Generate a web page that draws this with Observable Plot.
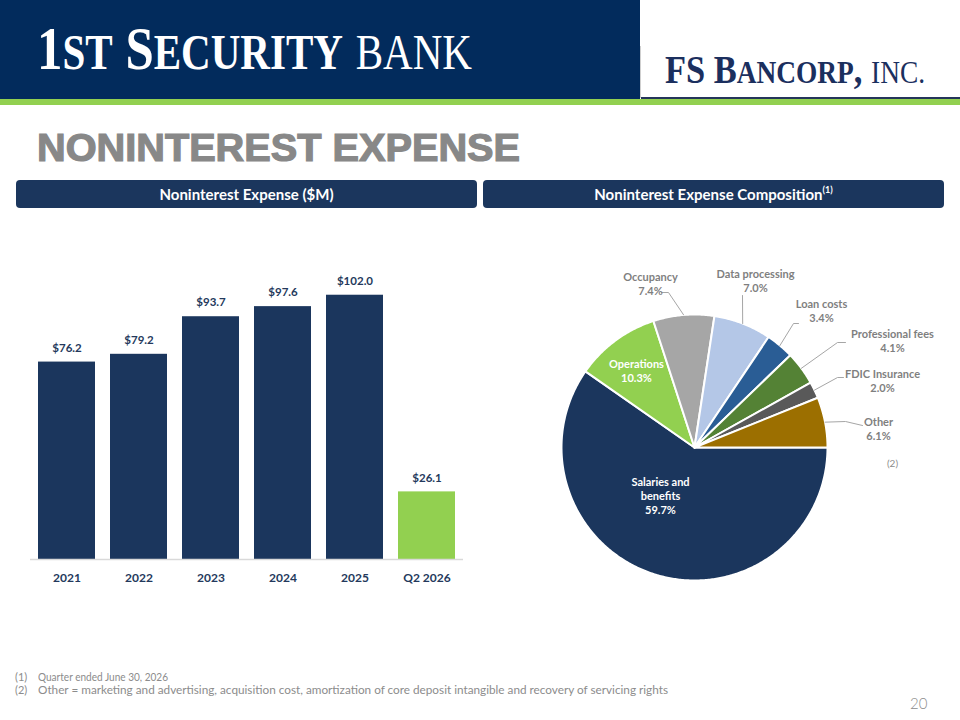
<!DOCTYPE html>
<html><head><meta charset="utf-8">
<script src="https://cdn.jsdelivr.net/npm/d3@7"></script>
<script src="https://cdn.jsdelivr.net/npm/@observablehq/plot@0.6"></script>
<style>
body{margin:0;width:960px;height:720px;position:relative;overflow:hidden;background:#fff;font-family:Lato,"Open Sans",sans-serif;}
.abs{position:absolute}
.fit{display:inline-block;white-space:nowrap;transform-origin:0 0}
.sect{position:absolute;top:180px;height:28px;background:#1b365d;border-radius:4px;color:#fff;font-weight:700;font-size:15px;line-height:28px;text-align:center}
.sect sup{font-size:9px;line-height:0;position:relative;top:-1px}
.foot{position:absolute;left:15px;font-size:11px;color:#8c8c8c;white-space:nowrap}
</style></head><body>
<!-- header -->
<div class="abs" style="left:0;top:0;width:640px;height:100px;background:#022b5c"></div>
<div class="abs" style="left:640px;top:46px;width:1px;height:52px;background:#cfcfcf"></div>
<div class="abs" style="left:641px;top:97px;width:319px;height:2px;background:#24345a"></div>
<div class="abs" style="left:0;top:99px;width:960px;height:6px;background:#92d050"></div>
<div class="abs" style="left:37px;top:15px;color:#fff;font-family:'Liberation Serif',serif;"><span id="logo1" class="fit" style="font-size:62px;line-height:66px"><b>1<span style="font-size:50px">ST</span> S<span style="font-size:50px">ECURITY</span></b> <span style="font-size:50px">BANK</span></span></div>
<div class="abs" style="left:665px;top:48px;color:#1b2f5e;font-family:'Liberation Serif',serif;"><span id="logo2" class="fit" style="font-size:39px;line-height:43px"><b>FS B<span style="font-size:31px">ANCORP</span>,</b> <span style="font-size:31px">INC.</span></span></div>
<!-- title -->
<div class="abs" style="left:37px;top:127px;color:#888888;font-family:'Liberation Sans',Arial,sans-serif;font-weight:700;"><span id="title" class="fit" style="font-size:38px;line-height:42px;-webkit-text-stroke:1.2px #888888">NONINTEREST EXPENSE</span></div>
<div class="sect" style="left:16px;width:461px">Noninterest Expense ($M)</div>
<div class="sect" style="left:483px;width:461px">Noninterest Expense Composition<sup>(1)</sup></div>
<div id="bars"></div>
<div id="pie"></div>
<div class="foot" style="top:670px"><span style="display:inline-block;width:23px">(1)</span><span class="fit" id="f1">Quarter ended June 30, 2026</span></div>
<div class="foot" style="top:683px"><span style="display:inline-block;width:23px">(2)</span><span class="fit" id="f2">Other = marketing and advertising, acquisition cost, amortization of core deposit intangible and recovery of servicing rights</span></div>
<div class="abs" style="left:910px;top:694px;font-size:15px;color:#8c8c8c;font-weight:300">20</div>
<script>
// ---------- data ----------
const years = ["2021", "2022", "2023", "2024", "2025", "Q2 2026"];
const expenseM = [76.2, 79.2, 93.7, 97.6, 102.0, 26.1];
const periodKind = ["annual", "annual", "annual", "annual", "annual", "quarter"];

const categories = ["Salaries and benefits", "Operations", "Occupancy", "Data processing", "Loan costs", "Professional fees", "FDIC Insurance", "Other"];
const sharePct = [59.7, 10.3, 7.4, 7.0, 3.4, 4.1, 2.0, 6.1];
const labelText = ["Salaries and\nbenefits", "Operations", "Occupancy", "Data processing", "Loan costs", "Professional fees", "FDIC Insurance", "Other"];

// ---------- styles / layout ----------
const NAVY = "#1b365d", GREEN = "#92d050";
const sliceColors = ["#1b365d", "#92d050", "#a6a6a6", "#b4c7e7", "#2a5d95", "#548235", "#595959", "#9c6f00"];
const R = 133;
// label centres and leader polylines, offsets from pie centre (px, y down)
const calloutLayout = {
  "Salaries and benefits": {at: [-34, 48], inside: true},
  "Operations": {at: [-58, -77], inside: true},
  "Occupancy": {at: [-44, -164], leader: [[-33, -155], [-26, -155]]},
  "Data processing": {at: [61, -167], leader: [[48, -152]]},
  "Loan costs": {at: [127, -137], leader: [[104, -124], [99, -124]]},
  "Professional fees": {at: [198, -107], leader: [[151, -105], [143, -105]]},
  "FDIC Insurance": {at: [188, -67], leader: [[149, -70], [143, -70]]},
  "Other": {at: [184, -19], leader: [[168, -22], [151, -26]]}
};

// ---------- bar chart ----------
const barData = years.map((y, i) => ({year: y, value: expenseM[i], kind: periodKind[i]}));
const bars = Plot.plot({
  width: 480, height: 340,
  marginLeft: 30, marginRight: 17, marginTop: 19, marginBottom: 36,
  style: {fontFamily: "Lato, sans-serif", background: "transparent"},
  x: {domain: years, paddingInner: 0.21, paddingOuter: 0.105, label: null, axis: null},
  y: {domain: [0, 110], axis: null},
  color: {domain: ["annual", "quarter"], range: [NAVY, GREEN]},
  marks: [
    Plot.barY(barData, {x: "year", y: "value", fill: "kind"}),
    Plot.ruleY([0], {stroke: "#d9d9d9", strokeWidth: 1.5}),
    Plot.text(barData, {x: "year", y: "value", text: d => "$" + d.value.toFixed(1), dy: -14, fill: "#24395c", fontWeight: 700, fontSize: 11.5}),
    Plot.axisX({tickSize: 0, tickPadding: 14, fontWeight: 700, fontSize: 12, color: "#24395c", label: null})
  ]
});
bars.style.position = "absolute"; bars.style.left = "0px"; bars.style.top = "255px";
document.getElementById("bars").appendChild(bars);

// ---------- pie chart ----------
const arcs = d3.pie().sort(null).startAngle(Math.PI / 2).endAngle(Math.PI / 2 + 2 * Math.PI)(sharePct);
const pt = (a, r) => [r * Math.sin(a), -r * Math.cos(a)];
const slicePts = [];
arcs.forEach((a, i) => {
  slicePts.push({cat: categories[i], x: 0, y: 0});
  const n = Math.max(2, Math.ceil((a.endAngle - a.startAngle) / 0.01));
  for (let k = 0; k <= n; k++) {
    const [x, y] = pt(a.startAngle + (a.endAngle - a.startAngle) * k / n, R);
    slicePts.push({cat: categories[i], x, y});
  }
});
const labels = categories.map((c, i) => {
  const L = calloutLayout[c];
  return {cat: c, x: L.at[0], y: L.at[1], text: labelText[i] + "\n" + sharePct[i].toFixed(1) + "%", inside: !!L.inside};
});
const leaderPts = [];
categories.forEach((c, i) => {
  const L = calloutLayout[c];
  if (!L.leader) return;
  const a = arcs[i], mid = (a.startAngle + a.endAngle) / 2;
  L.leader.forEach(p => leaderPts.push({cat: c, x: p[0], y: p[1]}));
  const [x, y] = pt(mid, R);
  leaderPts.push({cat: c, x, y});
});
const pie = Plot.plot({
  width: 480, height: 380, margin: 0,
  style: {fontFamily: "Lato, sans-serif", background: "transparent"},
  x: {domain: [-214, 266], range: [0, 480], axis: null},
  y: {domain: [-217, 163], range: [0, 380], axis: null},
  color: {domain: categories, range: sliceColors},
  marks: [
    Plot.line(slicePts, {x: "x", y: "y", z: "cat", fill: "cat", stroke: "#ffffff", strokeWidth: 2, curve: "linear-closed"}),
    Plot.line(leaderPts, {x: "x", y: "y", z: "cat", stroke: "#a6a6a6", strokeWidth: 1}),
    Plot.text(labels.filter(d => !d.inside), {x: "x", y: "y", text: "text", fill: "#7f7f7f", fontWeight: 700, fontSize: 11, lineHeight: 1.3}),
    Plot.text(labels.filter(d => d.inside), {x: "x", y: "y", text: "text", fill: "#ffffff", fontWeight: 700, fontSize: 11, lineHeight: 1.3}),
    Plot.text(["(2)"], {x: () => 198, y: () => 16, text: d => d, fill: "#8c8c8c", fontSize: 10})
  ]
});
pie.style.position = "absolute"; pie.style.left = "480px"; pie.style.top = "230px";
document.getElementById("pie").appendChild(pie);

// ---------- fit texts ----------
function fit(id, w) {
  const el = document.getElementById(id);
  const r = el.getBoundingClientRect().width;
  el.style.transform = `scaleX(${w / r})`;
}
fit("logo1", 435);
fit("logo2", 260);
fit("title", 483);
fit("f1", 130);
fit("f2", 630);
</script>
</body></html>
